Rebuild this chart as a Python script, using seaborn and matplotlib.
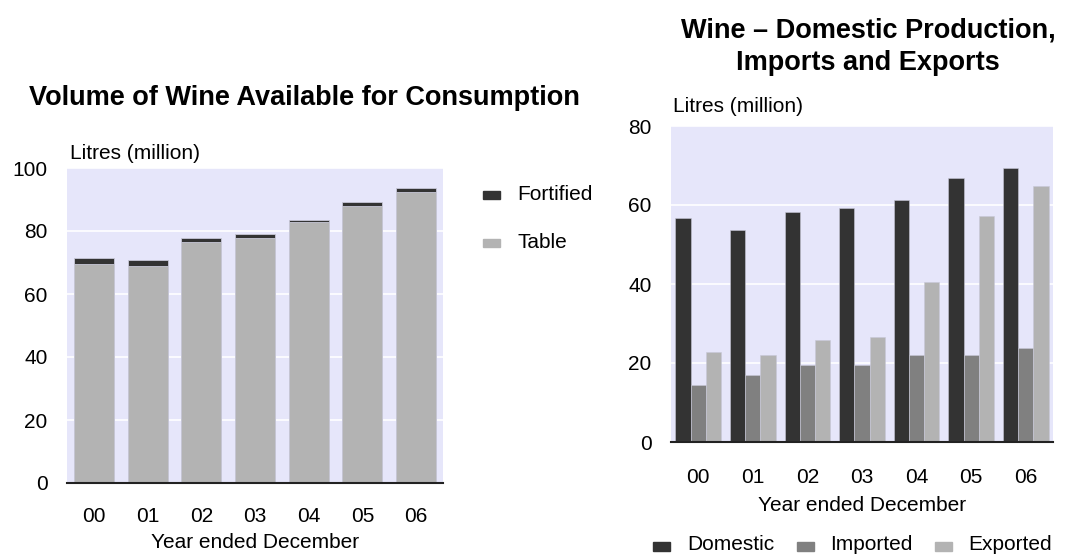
import matplotlib
matplotlib.use("Agg")
import matplotlib.pyplot as plt
import seaborn as sns
import pandas as pd

years = ["00", "01", "02", "03", "04", "05", "06"]
table = [69.5, 68.8, 76.4, 77.7, 82.8, 87.8, 92.3]
fortified = [1.9, 2.0, 1.3, 1.3, 0.7, 1.4, 1.4]
domestic = [56.6, 53.6, 58.2, 59.2, 61.2, 66.8, 69.3]
imported = [14.5, 17.0, 19.5, 19.5, 22.1, 22.1, 23.7]
exported = [22.7, 22.0, 25.7, 26.6, 40.4, 57.1, 64.7]

DARK, MID, LIGHT = "#333333", "#808080", "#b3b3b3"
BG = "#e6e6fa"
FS = 15

sns.set_theme(style="white")
plt.rcParams["font.family"] = ["Liberation Sans", "DejaVu Sans"]
plt.rcParams["text.color"] = "black"
plt.rcParams["axes.labelcolor"] = "black"

fig = plt.figure(figsize=(10.79, 5.56), dpi=100)
W, H = 1079, 556

def ax_at(x0, y0, x1, y1):
    return fig.add_axes([x0 / W, 1 - y1 / H, (x1 - x0) / W, (y1 - y0) / H])

def style(ax, ymax):
    ax.set_facecolor(BG)
    ax.set_ylim(0, ymax)
    ax.set_xlim(-0.5, 6.5)
    for s in ["top", "right", "left"]:
        ax.spines[s].set_visible(False)
    ax.spines["bottom"].set_color("#222222")
    ax.spines["bottom"].set_linewidth(1.5)
    ax.grid(axis="y", color="white", linewidth=1.2)
    ax.set_axisbelow(True)
    ax.tick_params(axis="both", length=0, labelsize=FS, colors="black")
    ax.set_ylabel("")

# Left chart
df1 = pd.DataFrame({"year": years, "total": [t + f for t, f in zip(table, fortified)], "table": table})
ax1 = ax_at(67, 168, 443, 483)
sns.barplot(data=df1, x="year", y="total", color=DARK, width=0.745, saturation=1,
            edgecolor="#c8c8d8", linewidth=0.6, ax=ax1)
sns.barplot(data=df1, x="year", y="table", color=LIGHT, width=0.745, saturation=1,
            edgecolor="#c8c8d8", linewidth=0.6, ax=ax1)
style(ax1, 100)
ax1.set_yticks([0, 20, 40, 60, 80, 100])
ax1.tick_params(axis="y", pad=14)
ax1.tick_params(axis="x", pad=17)
ax1.set_xlabel("Year ended December", fontsize=FS, labelpad=5)
fig.text(70 / W, 1 - 153 / H, "Litres (million)", fontsize=FS, va="center", ha="left")
fig.text(304 / W, 1 - 98 / H, "Volume of Wine Available for Consumption", fontsize=19.5,
         fontweight="bold", ha="center", va="center")

# legend left
for y, lab, col in [(194, "Fortified", DARK), (242, "Table", LIGHT)]:
    fig.patches.append(plt.Rectangle((483 / W, 1 - (y + 5) / H), 17 / W, 8 / H,
                                     transform=fig.transFigure, color=col))
    fig.text(517 / W, 1 - y / H, lab, fontsize=FS, va="center", ha="left")

# Right chart
df2 = pd.DataFrame({
    "year": years * 3,
    "value": domestic + imported + exported,
    "kind": ["Domestic"] * 7 + ["Imported"] * 7 + ["Exported"] * 7,
})
ax2 = ax_at(671, 126, 1053, 442)
sns.barplot(data=df2, x="year", y="value", hue="kind",
            palette={"Domestic": DARK, "Imported": MID, "Exported": LIGHT},
            width=0.84, saturation=1, edgecolor="#c8c8d8", linewidth=0.4, ax=ax2, legend=False)
style(ax2, 80)
ax2.set_yticks([0, 20, 40, 60, 80])
ax2.tick_params(axis="y", pad=14)
ax2.tick_params(axis="x", pad=18.5)
ax2.set_xlabel("Year ended December", fontsize=FS, labelpad=6.5)
fig.text(673 / W, 1 - 107 / H, "Litres (million)", fontsize=FS, va="center", ha="left")
fig.text(868 / W, 1 - 47 / H, "Wine \u2013 Domestic Production,\nImports and Exports", fontsize=19.5,
         fontweight="bold", ha="center", va="center", linespacing=1.35)

for x, tx, lab, col in [(653, 687, "Domestic", DARK), (797, 830, "Imported", MID), (935, 968, "Exported", LIGHT)]:
    fig.patches.append(plt.Rectangle((x / W, 1 - 551 / H), 17 / W, 9 / H,
                                     transform=fig.transFigure, color=col))
    fig.text(tx / W, 1 - 545 / H, lab, fontsize=FS, va="center", ha="left")

fig.savefig("out.png", dpi=100, facecolor="white")
